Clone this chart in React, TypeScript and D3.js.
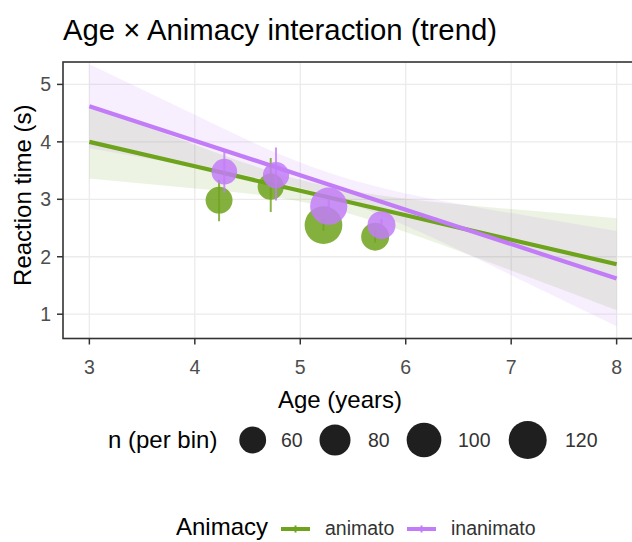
import React from "react";
import * as d3 from "d3";

// ---- data ----
const fitAges = [3, 4, 5, 6, 7, 8];
const animatoFit = [4.0, 3.574, 3.148, 2.722, 2.296, 1.87];
const animatoLower = [3.36, 3.19, 2.96, 2.43, 1.76, 1.07];
const animatoUpper = [4.64, 3.95, 3.34, 3.01, 2.83, 2.67];
const inanimatoFit = [4.62, 4.02, 3.42, 2.82, 2.22, 1.62];
const inanimatoLower = [3.89, 3.57, 3.2, 2.54, 1.68, 0.79];
const inanimatoUpper = [5.35, 4.47, 3.64, 3.1, 2.76, 2.45];

const animatoAge = [4.23, 4.72, 5.22, 5.71];
const animatoRT = [2.985, 3.22, 2.55, 2.35];
const animatoLo = [2.62, 2.78, 2.45, 2.25];
const animatoHi = [3.34, 3.72, 2.65, 2.47];
const animatoN = [60, 57, 118, 65];

const inanimatoAge = [4.28, 4.77, 5.27, 5.77];
const inanimatoRT = [3.48, 3.42, 2.88, 2.55];
const inanimatoLo = [3.12, 2.98, 2.75, 2.45];
const inanimatoHi = [3.85, 3.9, 3.0, 2.66];
const inanimatoN = [55, 57, 115, 65];

const xTicks = [3, 4, 5, 6, 7, 8];
const yTicks = [1, 2, 3, 4, 5];
const sizeBreaks = [60, 80, 100, 120];
const groups = ["animato", "inanimato"];

const GREEN = "#6EA31C";
const PURPLE = "#C27CF7";
const FONT = "'Liberation Sans', Arial, sans-serif";

export default function App() {
  const W = 632, H = 542;
  const left = 63, top = 62, bottom = 338.5, right = 643;
  const x = d3.scaleLinear().domain([2.75, 8.25]).range([left, right]);
  const y = d3.scaleLinear().domain([0.577, 5.39]).range([bottom, top]);
  const r = d3.scaleSqrt().domain([0, 120]).range([0, 19]);

  const area = (lo: number[], hi: number[]) =>
    d3
      .area<number>()
      .x((_, i) => x(fitAges[i]))
      .y0((_, i) => y(lo[i]))
      .y1((_, i) => y(hi[i]))
      .curve(d3.curveNatural)(fitAges) || "";
  const line = (v: number[]) =>
    d3
      .line<number>()
      .x((_, i) => x(fitAges[i]))
      .y((_, i) => y(v[i]))(fitAges) || "";

  const series = [
    { color: GREEN, age: animatoAge, rt: animatoRT, lo: animatoLo, hi: animatoHi, n: animatoN },
    { color: PURPLE, age: inanimatoAge, rt: inanimatoRT, lo: inanimatoLo, hi: inanimatoHi, n: inanimatoN },
  ];

  const sizeX = [252.7, 335, 424, 527.7];
  const sizeLabelX = [281, 368, 458, 565];

  return (
    <svg
      width={W}
      height={H}
      style={{ position: "absolute", left: 0, top: 0, background: "#fff" }}
      fontFamily={FONT}
    >
      <defs>
        <clipPath id="panel">
          <rect x={left} y={top} width={right - left} height={bottom - top} />
        </clipPath>
      </defs>
      <rect x={0} y={0} width={W} height={H} fill="#fff" />
      {/* grid */}
      {xTicks.map((t) => (
        <line key={"gx" + t} x1={x(t)} x2={x(t)} y1={top} y2={bottom} stroke="#ebebeb" strokeWidth={1.3} />
      ))}
      {yTicks.map((t) => (
        <line key={"gy" + t} x1={left} x2={right} y1={y(t)} y2={y(t)} stroke="#ebebeb" strokeWidth={1.3} />
      ))}
      <g clipPath="url(#panel)">
        <path d={area(animatoLower, animatoUpper)} fill={GREEN} fillOpacity={0.13} />
        <path d={area(inanimatoLower, inanimatoUpper)} fill={PURPLE} fillOpacity={0.13} />
        <path d={line(animatoFit)} fill="none" stroke={GREEN} strokeWidth={4.2} />
        <path d={line(inanimatoFit)} fill="none" stroke={PURPLE} strokeWidth={4.2} />
        {series.map((s, si) =>
          s.age.map((a, i) => (
            <g key={si + "-" + i}>
              <line x1={x(a)} x2={x(a)} y1={y(s.lo[i])} y2={y(s.hi[i])} stroke={s.color} strokeWidth={2} strokeOpacity={0.8} />
              <circle cx={x(a)} cy={y(s.rt[i])} r={r(s.n[i])} fill={s.color} fillOpacity={0.85} />
            </g>
          ))
        )}
      </g>
      {/* panel border */}
      <rect x={left} y={top} width={right - left + 10} height={bottom - top} fill="none" stroke="#333" strokeWidth={1.6} />
      {/* axes ticks */}
      {xTicks.map((t) => (
        <g key={"tx" + t}>
          <line x1={x(t)} x2={x(t)} y1={bottom} y2={bottom + 6} stroke="#333" strokeWidth={1.5} />
          <text x={x(t)} y={374} textAnchor="middle" fontSize={19.5} fill="#4d4d4d">
            {t}
          </text>
        </g>
      ))}
      {yTicks.map((t) => (
        <g key={"ty" + t}>
          <line x1={left - 6} x2={left} y1={y(t)} y2={y(t)} stroke="#333" strokeWidth={1.5} />
          <text x={51} y={y(t) + 7} textAnchor="end" fontSize={19.5} fill="#4d4d4d">
            {t}
          </text>
        </g>
      ))}
      {/* titles */}
      <text x={63} y={40} fontSize={29.3} fill="#000">
        Age × Animacy interaction (trend)
      </text>
      <text x={(left + 617) / 2} y={408} textAnchor="middle" fontSize={24} fill="#000">
        Age (years)
      </text>
      <text
        transform={`translate(31, ${(top + bottom) / 2 - 5}) rotate(-90)`}
        textAnchor="middle"
        fontSize={24}
        fill="#000"
      >
        Reaction time (s)
      </text>
      {/* size legend */}
      <text x={108} y={448} fontSize={24} fill="#000">
        n (per bin)
      </text>
      {sizeBreaks.map((b, i) => (
        <g key={"sb" + b}>
          <circle cx={sizeX[i]} cy={440} r={r(b)} fill="#1f1f1f" />
          <text x={sizeLabelX[i]} y={447} fontSize={19.5} fill="#333">
            {b}
          </text>
        </g>
      ))}
      {/* colour legend */}
      <text x={176} y={535} fontSize={24} fill="#000">
        Animacy
      </text>
      {groups.map((g, i) => {
        const kx = i === 0 ? 281 : 407;
        const c = i === 0 ? GREEN : PURPLE;
        return (
          <g key={g}>
            <line x1={kx} x2={kx + 29} y1={529} y2={529} stroke={c} strokeWidth={4} />
            <line x1={kx + 14.5} x2={kx + 14.5} y1={525.5} y2={532.5} stroke={c} strokeWidth={2} />
            <text x={kx + 44} y={535} fontSize={19.5} fill="#333">
              {g}
            </text>
          </g>
        );
      })}
    </svg>
  );
}
